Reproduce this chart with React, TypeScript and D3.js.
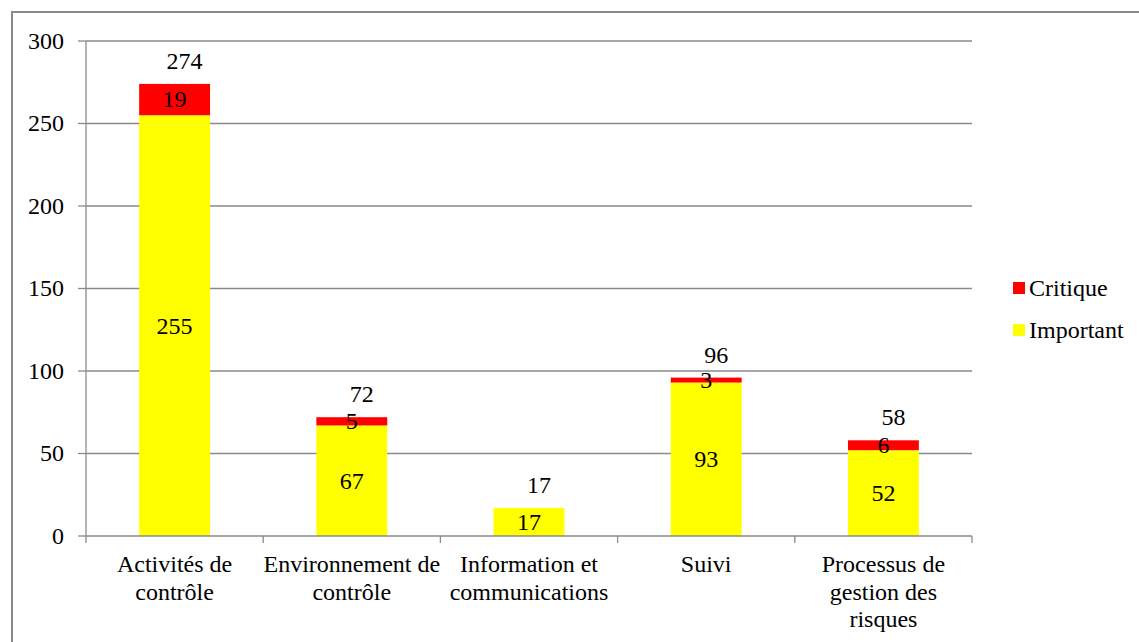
import React from "react";
import * as d3 from "d3";

const categories: string[][] = [
  ["Activités de", "contrôle"],
  ["Environnement de", "contrôle"],
  ["Information et", "communications"],
  ["Suivi"],
  ["Processus de", "gestion des", "risques"],
];
const important: number[] = [255, 67, 17, 93, 52];
const critique: number[] = [19, 5, 0, 3, 6];
const yTicks: number[] = [0, 50, 100, 150, 200, 250, 300];
const seriesNames = ["Critique", "Important"];

const W = 1139;
const H = 642;
const FONT = '"Liberation Serif", "DejaVu Serif", "Noto Serif", Tinos, "Times New Roman", Times, serif';

export default function App() {
  const x0 = 86, x1 = 972, yTop = 41, yBot = 536;
  const idx = categories.map((_, i) => i);
  const x = d3.scaleBand<number>().domain(idx).range([x0, x1]).paddingInner(0.6).paddingOuter(0.3);
  const y = d3.scaleLinear().domain([0, 300]).range([yBot, yTop]);
  const bw = x.bandwidth();
  const step = (x1 - x0) / categories.length;
  const grid = "#8a8a8a";
  const fs = 24;
  const st = { fontFamily: FONT, fontSize: fs + "px" };
  const T = (p: any) => <text style={st} fill="#000" {...p} />;

  return (
    <div>
      <style>{`body{margin:0} svg text{font-family:${FONT};}`}</style>
      <svg width={W} height={H} style={{ display: "block" }}>
        <rect x={0} y={0} width={W} height={H} fill="#fff" />
        <rect x={12} y={12} width={W} height={H} fill="none" stroke={grid} strokeWidth={2} />
        {yTicks.map((t) => (
          <g key={t}>
            {t > 0 && <line x1={x0} x2={x1} y1={y(t)} y2={y(t)} stroke={grid} strokeWidth={1.3} />}
            <line x1={x0 - 8} x2={x0} y1={y(t)} y2={y(t)} stroke={grid} strokeWidth={1.3} />
            {T({ x: 64, y: y(t), dy: "0.33em", textAnchor: "end", children: String(t) })}
          </g>
        ))}
        <line x1={x0} x2={x0} y1={yTop} y2={yBot} stroke={grid} strokeWidth={1.3} />
        {idx.map((i) => {
          const cx = x(i)! + bw / 2;
          const imp = important[i];
          const cr = critique[i];
          const tot = imp + cr;
          return (
            <g key={i}>
              <rect x={x(i)} y={y(imp)} width={bw} height={y(0) - y(imp)} fill="#ffff00" />
              {cr > 0 && (
                <rect x={x(i)} y={y(tot)} width={bw} height={y(imp) - y(tot)} fill="#ff0000" />
              )}
              {T({ x: cx, y: y(imp / 2), dy: "0.33em", textAnchor: "middle", children: String(imp) })}
              {cr > 0 && T({ x: cx, y: y(imp + cr / 2), dy: "0.33em", textAnchor: "middle", children: String(cr) })}
              {T({ x: cx + 10, y: y(tot) - 15, textAnchor: "middle", children: String(tot) })}
            </g>
          );
        })}
        <line x1={x0} x2={x1} y1={yBot} y2={yBot} stroke={grid} strokeWidth={1.3} />
        {d3.range(categories.length + 1).map((k) => (
          <line key={k} x1={x0 + k * step} x2={x0 + k * step} y1={yBot} y2={yBot + 7} stroke={grid} strokeWidth={1.3} />
        ))}
        {categories.map((lines, i) => (
          <text key={i} style={st} x={x(i)! + bw / 2} textAnchor="middle">
            {lines.map((l, j) => (
              <tspan key={j} x={x(i)! + bw / 2} y={572 + j * 27.5}>{l}</tspan>
            ))}
          </text>
        ))}
        {seriesNames.map((s, k) => (
          <g key={s}>
            <rect x={1013} y={282 + k * 42} width={12} height={12} fill={k === 0 ? "#ff0000" : "#ffff00"} />
            {T({ x: 1029, y: 296 + k * 42, children: s })}
          </g>
        ))}
      </svg>
    </div>
  );
}
